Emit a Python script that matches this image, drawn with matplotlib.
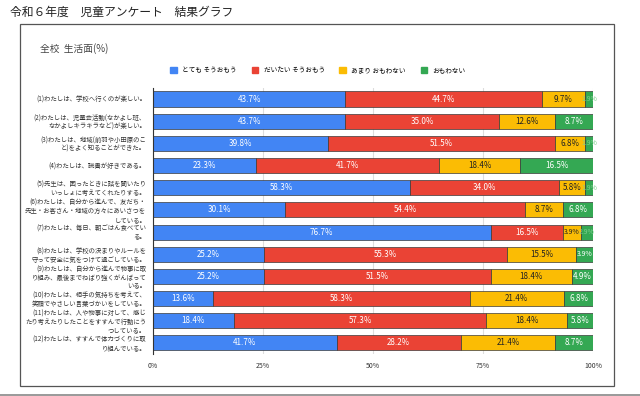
import numpy as np
import matplotlib.pyplot as plt
from matplotlib.patches import Rectangle
from matplotlib.lines import Line2D

plt.rcParams['font.family'] = ['Noto Sans CJK JP', 'DejaVu Sans']

questions = [
    "(1)わたしは、学校へ行くのが楽しい。",
    "(2)わたしは、児童会活動(なかよし班、\nなかよしキラキラなど)が楽しい。",
    "(3)わたしは、地域(前羽や小田原のこ\nと)をよく知ることができた。",
    "(4)わたしは、読書が好きである。",
    "(5)先生は、困ったときに話を聞いたり\nいっしょに考えてくれたりする。",
    "(6)わたしは、自分から進んで、友だち・\n先生・お客さん・地域の方々にあいさつを\nしている。",
    "(7)わたしは、毎日、朝ごはん食べてい\nる。",
    "(8)わたしは、学校の決まりやルールを\n守って安全に気をつけて過ごしている。",
    "(9)わたしは、自分から進んで物事に取\nり組み、最後までねばり強くがんばって\nいる。",
    "(10)わたしは、相手の気持ちを考えて、\n笑顔でやさしい言葉づかいをしている。",
    "(11)わたしは、人や物事に対して、感じ\nたり考えたりしたことをすすんで行動にう\nつしている。",
    "(12)わたしは、すすんで体力づくりに取\nり組んでいる。",
]

series_names = ["とても そうおもう", "だいたい そうおもう", "あまり おもわない", "おもわない"]
totemo = [43.7, 43.7, 39.8, 23.3, 58.3, 30.1, 76.7, 25.2, 25.2, 13.6, 18.4, 41.7]
daitai = [44.7, 35.0, 51.5, 41.7, 34.0, 54.4, 16.5, 55.3, 51.5, 58.3, 57.3, 28.2]
amari = [9.7, 12.6, 6.8, 18.4, 5.8, 8.7, 3.9, 15.5, 18.4, 21.4, 18.4, 21.4]
omowanai = [1.9, 8.7, 1.9, 16.5, 1.9, 6.8, 2.9, 3.9, 4.9, 6.8, 5.8, 8.7]

colors = ['#4285F4', '#EA4335', '#FBBC04', '#34A853']
text_colors = ['white', 'white', '#222222', 'white']

fig = plt.figure(figsize=(6.4, 3.96), dpi=100)
ax = fig.add_axes([0.239, 0.106, 0.688, 0.672])

data = [totemo, daitai, amari, omowanai]
y = np.arange(len(questions))
left = np.zeros(len(questions))
for k, vals in enumerate(data):
    vals = np.array(vals)
    ax.barh(y, vals, left=left, height=0.68, color=colors[k],
            edgecolor='#3a3a3a', linewidth=0.5, label=series_names[k], zorder=3)
    for i, v in enumerate(vals):
        tc = text_colors[k]
        if k == 3 and v < 3:
            tc = '#7fcf8f'
        fs = 5.8 if v >= 4.5 else 5.0
        ax.text(left[i] + v / 2, y[i], f"{v:.1f}%", ha='center', va='center',
                fontsize=fs, color=tc, zorder=4)
    left += vals

ax.set_xlim(0, 100)
ax.set_ylim(len(questions) - 0.5, -0.5)
ax.set_xticks([0, 25, 50, 75, 100])
ax.set_xticklabels(['0%', '25%', '50%', '75%', '100%'], fontsize=5, color='#333333')
ax.set_yticks(y)
ax.set_yticklabels(questions, fontsize=4.6, color='#333333', linespacing=1.1)
ax.tick_params(axis='y', length=0, pad=5)
ax.tick_params(axis='x', length=0, pad=6)
ax.grid(axis='x', color='#dddddd', linewidth=0.8, zorder=0)
for s in ['top', 'right', 'bottom']:
    ax.spines[s].set_visible(False)
ax.spines['left'].set_color('#333333')
ax.spines['left'].set_linewidth(0.8)
ax.spines['left'].set_zorder(5)

handles = [Rectangle((0, 0), 1, 1, color=c) for c in colors]
fig.legend(handles, series_names, loc='center', bbox_to_anchor=(0.497, 0.823),
           ncol=4, frameon=False, fontsize=4.8, handlelength=1.0, handleheight=1.0,
           columnspacing=2.2, handletextpad=0.8)

fig.text(0.016, 0.97, "令和６年度　児童アンケート　結果グラフ", fontsize=8.5,
         ha='left', va='center', color='#222222')
fig.text(0.063, 0.878, "全校  生活面(%)", fontsize=7, ha='left', va='center', color='#444444')

frame = Rectangle((20 / 640, 10 / 396), 594 / 640, 362 / 396, transform=fig.transFigure,
                  fill=False, edgecolor='#555555', linewidth=0.9)
fig.patches.append(frame)
fig.lines.append(Line2D([0, 1], [0.003, 0.003], transform=fig.transFigure,
                        color='#888888', linewidth=1.2))

fig.savefig('out.png', dpi=100)
